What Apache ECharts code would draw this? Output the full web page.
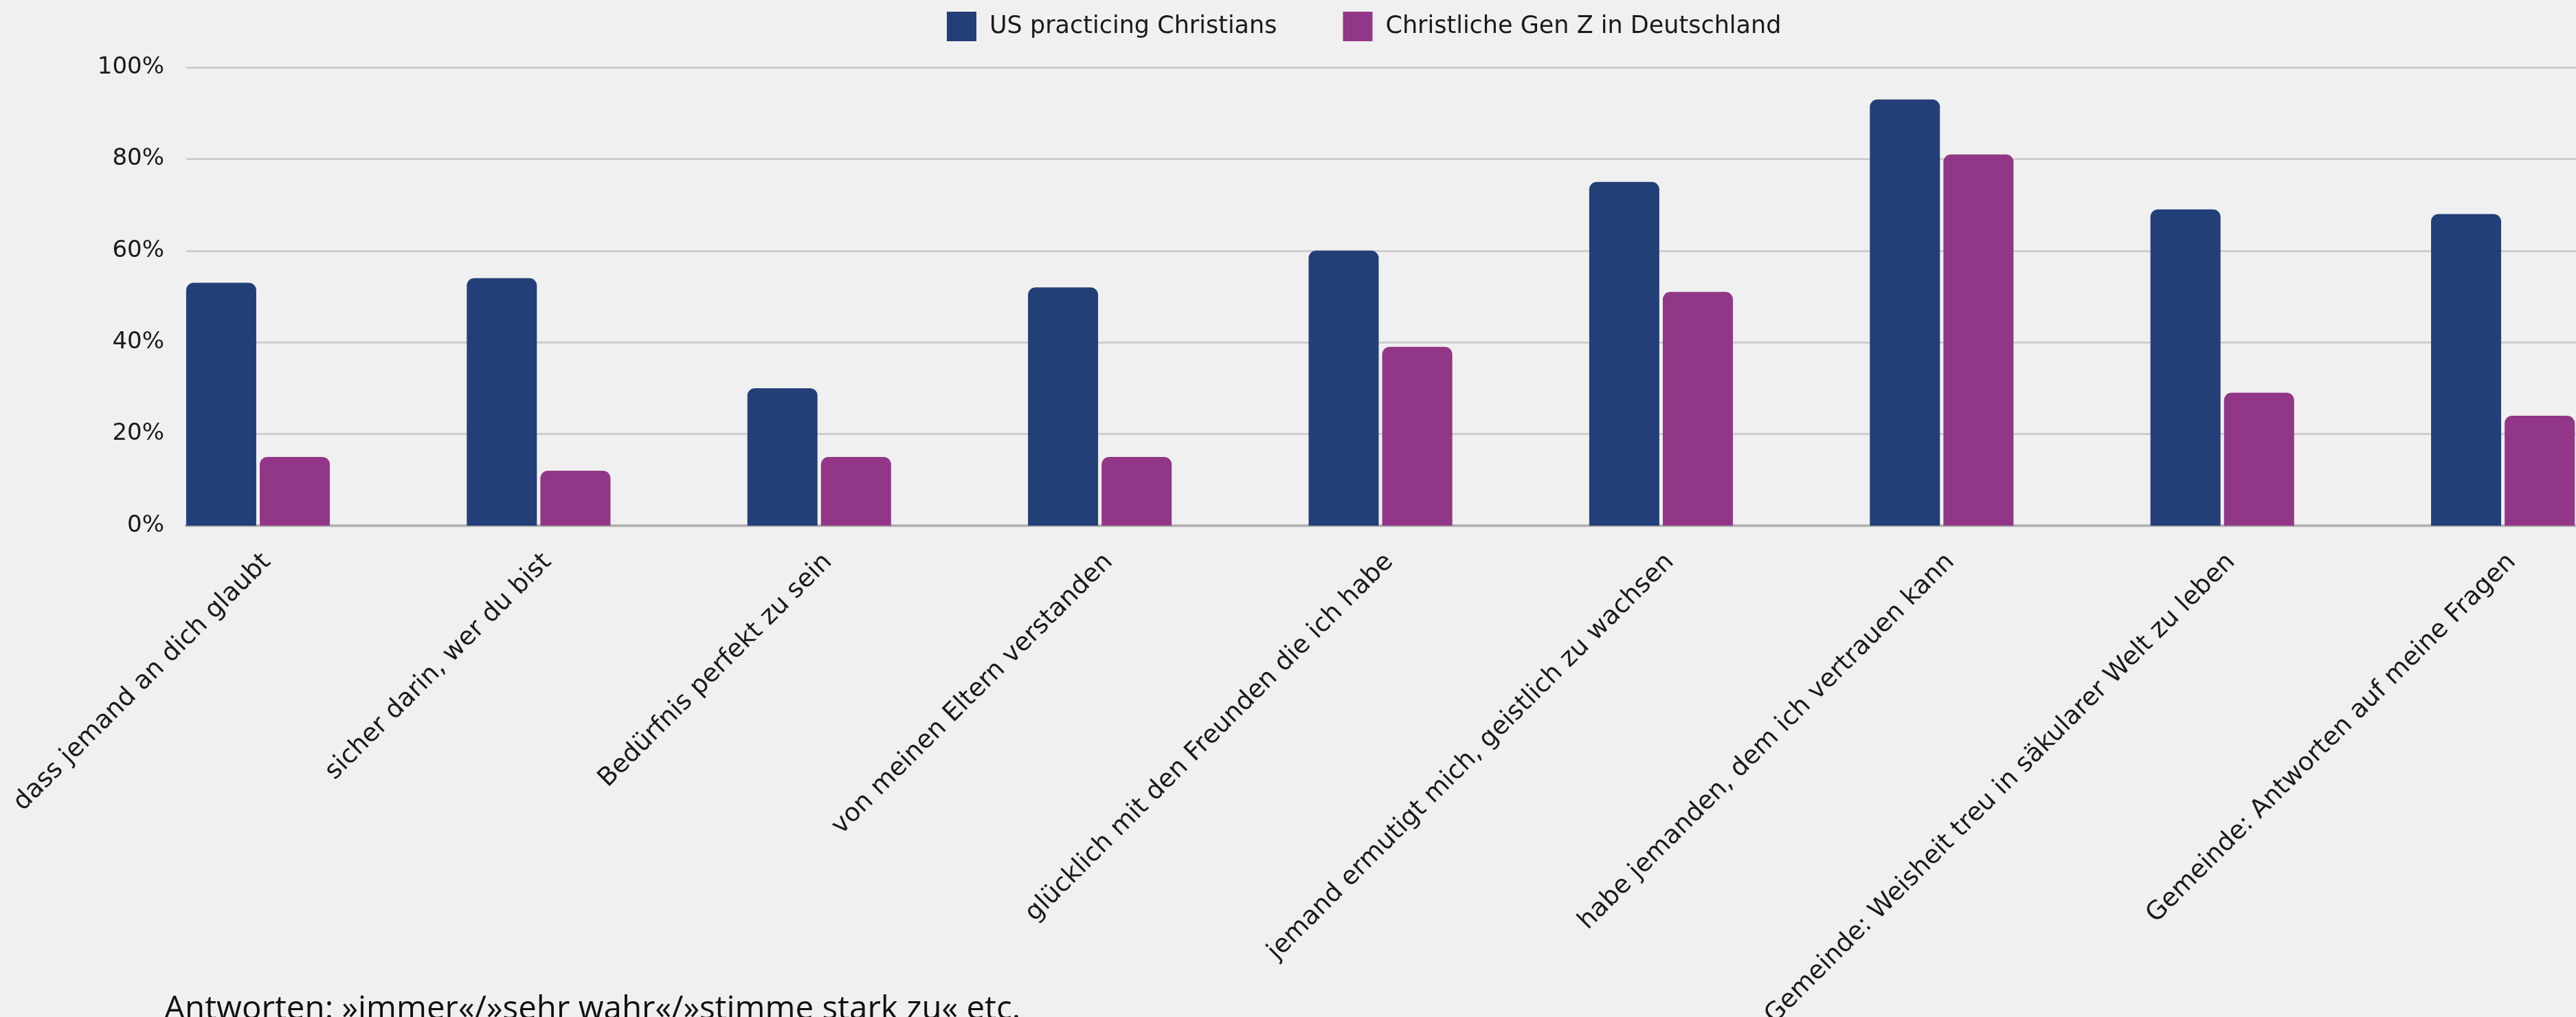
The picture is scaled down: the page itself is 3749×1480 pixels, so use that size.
<!DOCTYPE html>
<html>
<head>
<meta charset="utf-8">
<script src="https://cdn.jsdelivr.net/npm/echarts@6/dist/echarts.min.js"></script>
<style>
html,body{margin:0;padding:0;background:#f0f0f0;}
#chart{width:3749px;height:1480px;}
</style>
</head>
<body>
<div id="chart"></div>
<script>
const categories = [
  "dass jemand an dich glaubt",
  "sicher darin, wer du bist",
  "Bedürfnis perfekt zu sein",
  "von meinen Eltern verstanden",
  "glücklich mit den Freunden die ich habe",
  "jemand ermutigt mich, geistlich zu wachsen",
  "habe jemanden, dem ich vertrauen kann",
  "Gemeinde: Weisheit treu in säkularer Welt zu leben",
  "Gemeinde: Antworten auf meine Fragen"
];
const seriesNames = ["US practicing Christians", "Christliche Gen Z in Deutschland"];
const usValues = [53, 54, 30, 52, 60, 75, 93, 69, 68];
const deValues = [15, 12, 15, 15, 39, 51, 81, 29, 24];
const footnote = "Antworten: »immer«/»sehr wahr«/»stimme stark zu« etc.";

const FONT = "DejaVu Sans";
const chart = echarts.init(document.getElementById('chart'), null, {renderer: 'canvas'});
const gridTop = 98, gridBottom = 715;
chart.setOption({
  backgroundColor: '#f0f0f0',
  animation: false,
  legend: {
    data: seriesNames,
    left: 1373,
    top: 12,
    icon: 'rect',
    itemWidth: 43,
    itemHeight: 43,
    itemGap: 96,
    textStyle: {fontFamily: FONT, fontSize: 35, color: '#1a1a1a', padding: [0, 0, 0, 14]}
  },
  grid: [
    {left: 271, right: 0, top: gridTop, bottom: gridBottom, outerBoundsMode: 'none'},
    {left: 171.3, width: 3675.5, top: gridTop, bottom: gridBottom, outerBoundsMode: 'none'}
  ],
  xAxis: [
    {type: 'value', gridIndex: 0, min: 0, max: 1, axisLabel: {show: false}, axisTick: {show: false},
     splitLine: {show: false}, axisLine: {show: true, lineStyle: {color: '#b4b4b4', width: 4}}},
    {type: 'category', gridIndex: 1, data: categories,
     axisLine: {show: false}, axisTick: {show: false},
     axisLabel: {interval: 0, rotate: 45, margin: 34, verticalAlign: 'top',
                 fontFamily: FONT, fontSize: 37, color: '#1a1a1a'}}
  ],
  yAxis: [
    {type: 'value', gridIndex: 0, min: 0, max: 100, interval: 20,
     axisLine: {show: false}, axisTick: {show: false},
     axisLabel: {formatter: '{value}%', fontFamily: FONT, fontSize: 34, color: '#1a1a1a', margin: 32},
     splitLine: {show: true, lineStyle: {color: '#cdcdcd', width: 3}}},
    {type: 'value', gridIndex: 1, min: 0, max: 100, interval: 20, show: false}
  ],
  series: [
    {name: seriesNames[0], type: 'bar', xAxisIndex: 1, yAxisIndex: 1, data: usValues,
     barWidth: 102, barGap: '5%', itemStyle: {color: '#233f78', borderRadius: [11, 11, 0, 0]}},
    {name: seriesNames[1], type: 'bar', xAxisIndex: 1, yAxisIndex: 1, data: deValues,
     barWidth: 102, barGap: '5%', itemStyle: {color: '#923787', borderRadius: [11, 11, 0, 0]}}
  ],
  graphic: [
    {type: 'text', left: 239, top: 1445,
     style: {text: footnote, fontFamily: 'Open Sans', fontSize: 47.5, fill: '#111'}}
  ]
});
</script>
</body>
</html>
